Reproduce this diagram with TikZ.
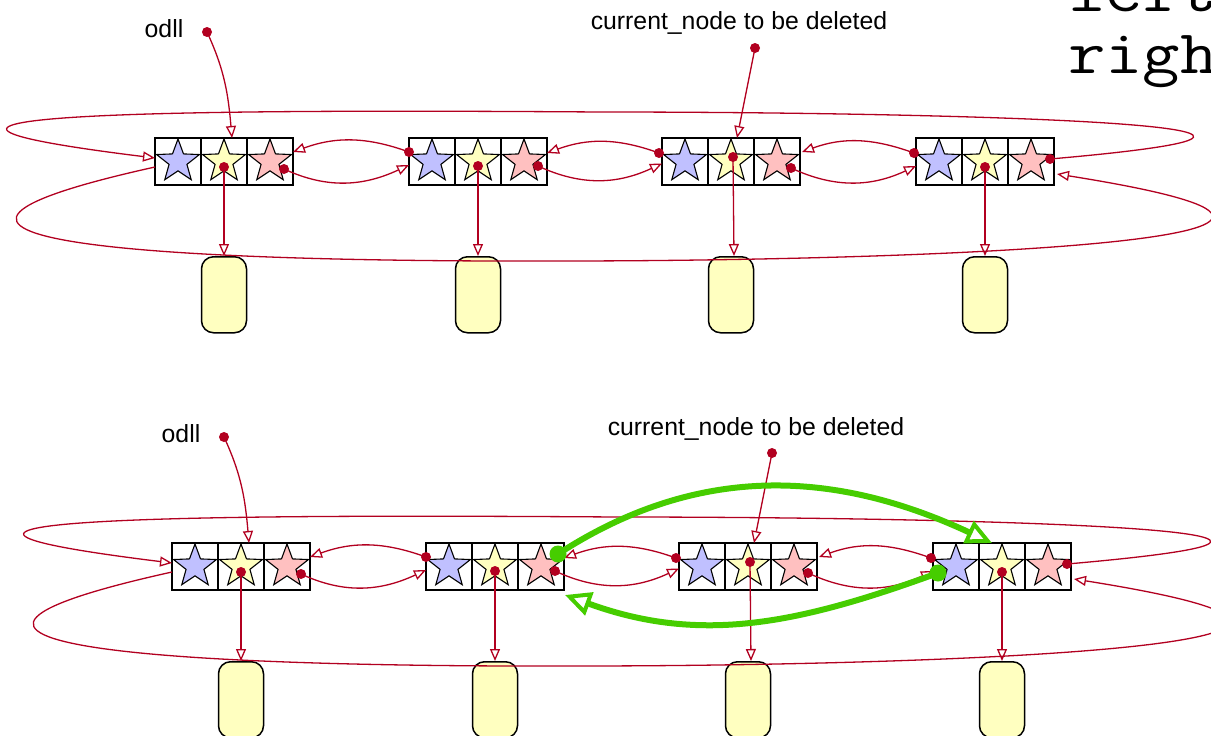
\documentclass[tikz,border=0pt]{standalone}
\usepackage{fontspec}
\setmainfont{Liberation Sans}
\newfontfamily\codefont[FakeStretch=1.17]{Latin Modern Mono}
\usetikzlibrary{positioning,arrows.meta,shapes.geometric}
\definecolor{ptrred}{RGB}{178,0,32}
\definecolor{starblue}{RGB}{192,192,255}
\definecolor{staryellow}{RGB}{255,255,192}
\definecolor{starpink}{RGB}{255,192,192}
\definecolor{valyellow}{RGB}{255,255,192}
\definecolor{movegreen}{RGB}{70,205,0}
\tikzstyle{cell}=[rectangle, draw=black, line width=1.5pt, minimum width=46pt,
                  minimum height=47pt, inner sep=0pt, outer sep=0pt]
\tikzstyle{starbox}=[star, star points=5, star point ratio=2.4, draw=black,
                     line width=1.1pt, minimum size=45pt, inner sep=0pt]
\tikzstyle{valbox}=[rectangle, rounded corners=12pt, draw=black, line width=1.5pt,
                    fill=valyellow, minimum width=45pt, minimum height=76pt, inner sep=0pt]
\tikzstyle{dot}=[circle, fill=ptrred, minimum size=10pt, inner sep=0pt]
\tikzstyle{gdot}=[circle, fill=movegreen, minimum size=17pt, inner sep=0pt]
\tikzstyle{pline}=[draw=ptrred, line width=1.3pt, -{Triangle[length=12pt,width=10pt,fill=white]}]
\tikzstyle{gline}=[draw=movegreen, line width=6pt,
                   -{Triangle[length=26pt,width=24pt,line width=4pt,fill=white]}]
\tikzstyle{lbl}=[inner sep=0pt, font=\fontsize{24.8}{28}\selectfont]
\tikzstyle{codetxt}=[inner sep=0pt, anchor=base west, font=\codefont\fontsize{62}{62}\selectfont]

\begin{document}
\begin{tikzpicture}[x=1pt, y=1pt]
\useasboundingbox (0,0) rectangle (1211,-736);

\foreach \lst/\sx/\sy in {t/0/0, b/17/-405} {
\begin{scope}[shift={(\sx,\sy)}]

\foreach \nd/\xl in {1/155, 2/409, 3/662, 4/916} {
 \node (\lst\nd p) [cell] at (\xl+23,-161.5) {};
 \node (\lst\nd d) [cell, right=0pt of \lst\nd p] {};
 \node (\lst\nd n) [cell, right=0pt of \lst\nd d] {};
 \node (\lst\nd ps) [starbox, fill=starblue] at (\lst\nd p) {};
 \node (\lst\nd ds) [starbox, fill=staryellow] at (\lst\nd d) {};
 \node (\lst\nd ns) [starbox, fill=starpink] at (\lst\nd n) {};
 \node (\lst\nd v) [valbox, below=71pt of \lst\nd d] {};
}

\node (\lst odll) [lbl, anchor=base] at (164,-37) {odll};
\node (\lst cur) [lbl, anchor=base] at (739,-30) {current\_node to be deleted};

 \node (\lst hd) [dot] at (207,-32) {};
 \draw[pline] (\lst hd.center) to[out=-65,in=95] ([xshift=8pt]\lst1d.north);
 \node (\lst cd) [dot] at (755,-48) {};
 \draw[pline] (\lst cd.center) -- ([xshift=6pt]\lst3d.north);

 \node (\lst1nd) [dot] at ([shift={(14,-7.5)}]\lst1n.center) {};
 \draw[pline] (\lst1nd.center) to[out=-25,in=205] ([yshift=-3.5pt]\lst2p.west);
 \node (\lst2nd) [dot] at ([shift={(14,-4.5)}]\lst2n.center) {};
 \draw[pline] (\lst2nd.center) to[out=-25,in=205] ([yshift=-2pt]\lst3p.west);
 \node (\lst3nd) [dot] at ([shift={(14,-6.5)}]\lst3n.center) {};
 \draw[pline] (\lst3nd.center) to[out=-25,in=205] ([yshift=-4.5pt]\lst4p.west);

 \node (\lst2pd) [dot] at ([yshift=9.5pt]\lst2p.west) {};
 \draw[pline] (\lst2pd.center) to[out=160,in=20] ([yshift=9.5pt]\lst1n.east);
 \node (\lst3pd) [dot] at ([shift={(-3,8.5)}]\lst3p.west) {};
 \draw[pline] (\lst3pd.center) to[out=160,in=20] ([yshift=8.5pt]\lst2n.east);
 \node (\lst4pd) [dot] at ([shift={(-2,8.5)}]\lst4p.west) {};
 \draw[pline] (\lst4pd.center) to[out=160,in=20] ([shift={(2,9.5)}]\lst3n.east);

 \node (\lst1dd) [dot] at ([yshift=-5.5pt]\lst1d.center) {};
 \draw[pline] (\lst1dd.center) -- (\lst1v.north);
 \node (\lst2dd) [dot] at ([yshift=-4.5pt]\lst2d.center) {};
 \draw[pline] (\lst2dd.center) -- (\lst2v.north);
 \node (\lst3dd) [dot] at ([shift={(2,4.5)}]\lst3d.center) {};
 \draw[pline] (\lst3dd.center) -- ([xshift=3pt]\lst3v.north);
 \node (\lst4dd) [dot] at ([yshift=-5.5pt]\lst4d.center) {};
 \draw[pline] (\lst4dd.center) -- (\lst4v.north);

 % wrap round
 \node (\lst4nd) [dot] at ([shift={(19,2.5)}]\lst4n.center) {};
 \draw[pline] (\lst4nd.center) .. controls (1440,-125) and (950,-112) .. (600,-112)
   .. controls (300,-110) and (-250,-108) .. ([yshift=3.5pt]\lst1p.west);
 \draw[pline] ([yshift=-5.5pt]\lst1p.west) .. controls (-220,-250) and (250,-262) .. (560,-261)
   .. controls (900,-261) and (1485,-242) .. ([shift={(3,-12.5)}]\lst4n.east);

\end{scope}
}

\node (gd1) [gdot] at ([shift={(17,12.5)}]b2n.center) {};
\draw[gline] (gd1.center) to[out=33,in=155] ([xshift=-10pt]b4d.north);
\node (gd2) [gdot] at ([shift={(-18,-6.5)}]b4p.center) {};
\draw[gline] (gd2.center) to[out=200,in=-20] ([shift={(1,-5)}]b2n.south east);

\node (lefttxt) [codetxt] at (1068,-11) {left};
\node (righttxt) [codetxt] at (1068,-73) {right};

\end{tikzpicture}
\end{document}
